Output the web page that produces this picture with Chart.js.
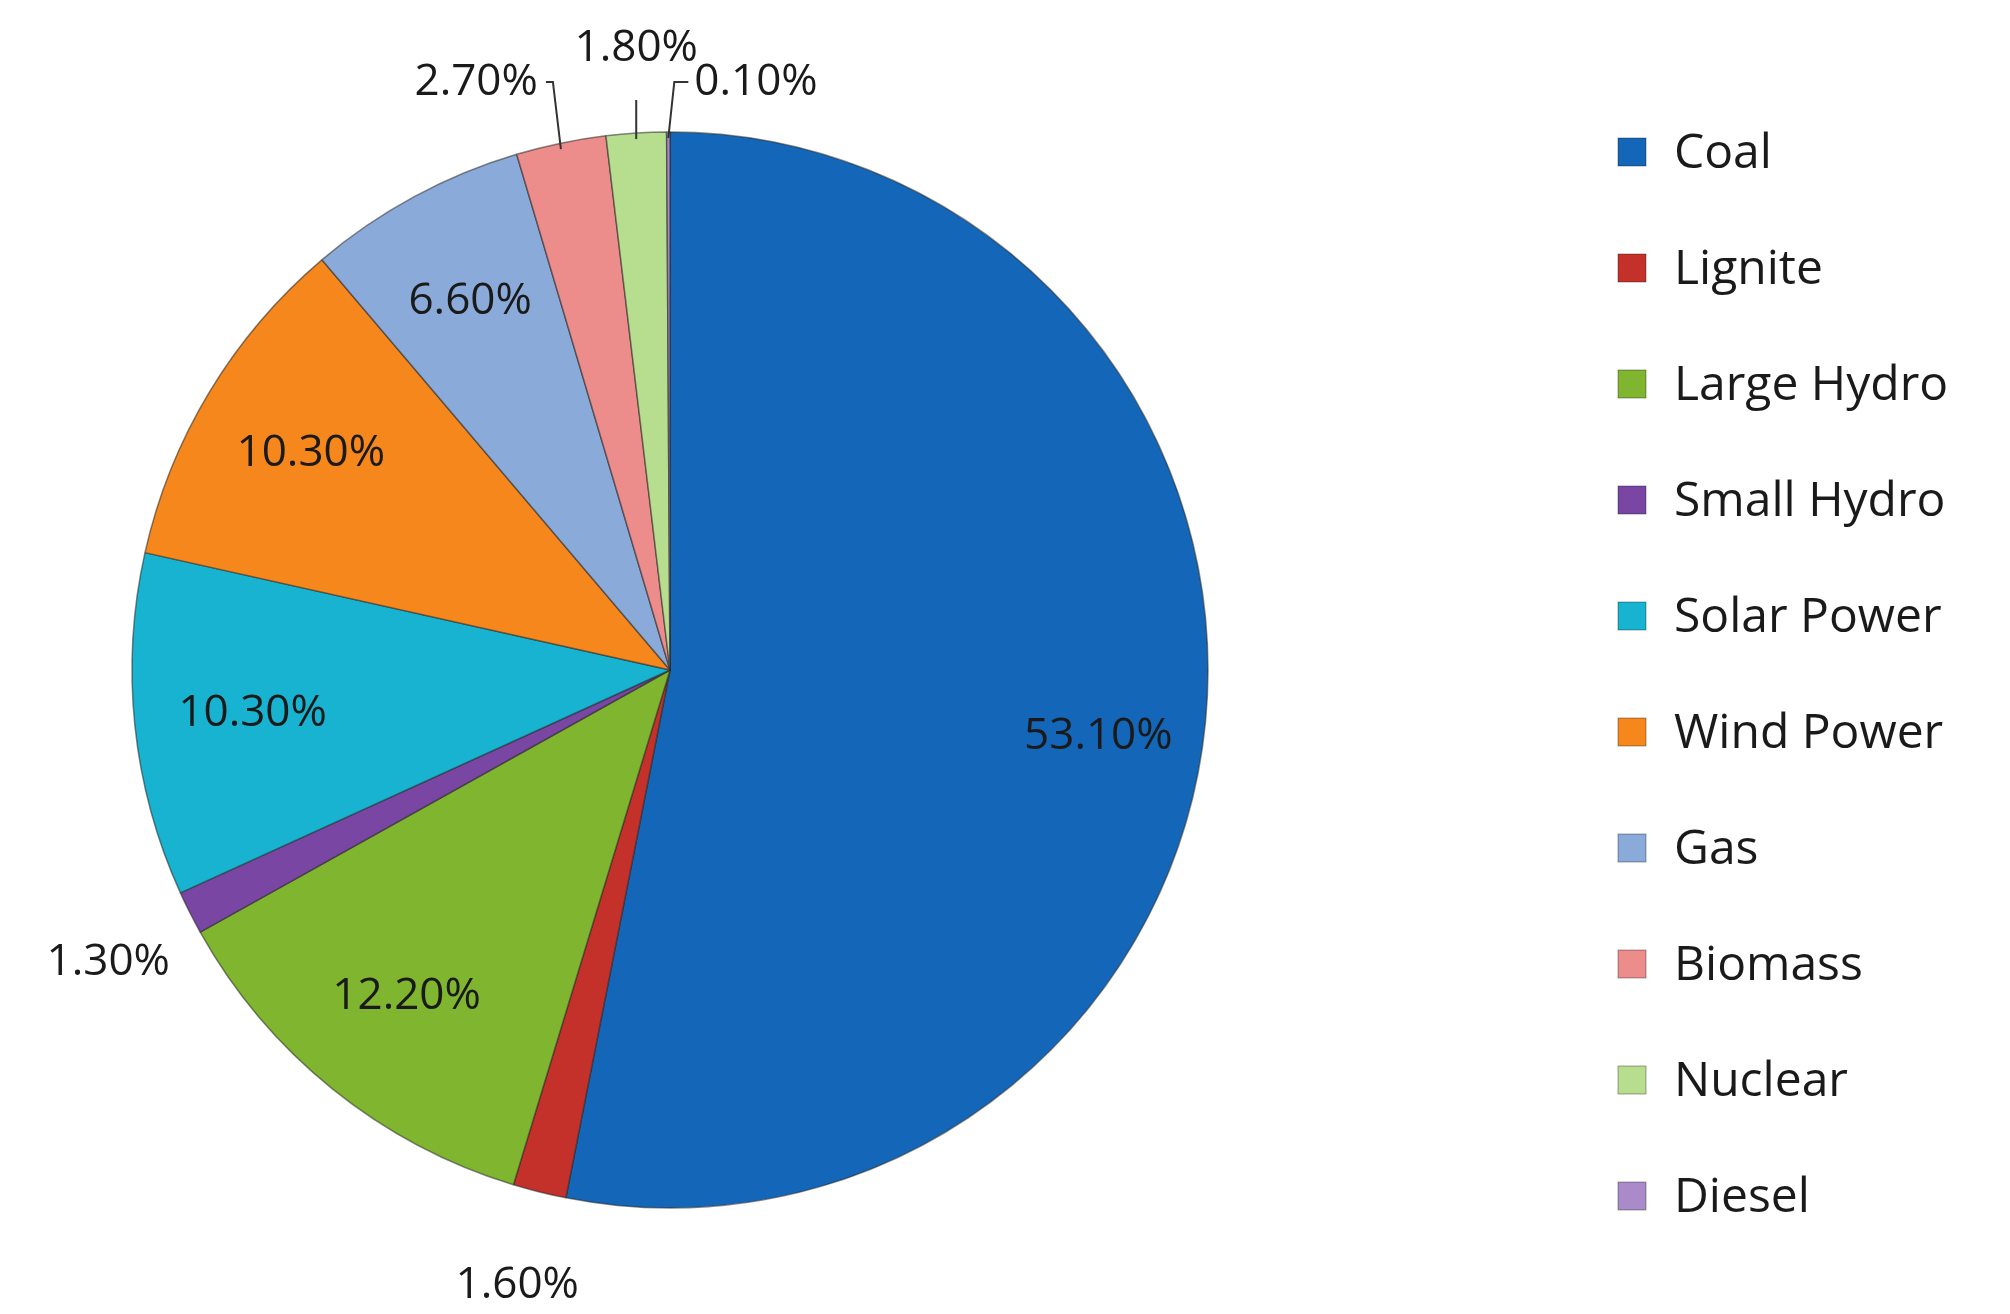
<!DOCTYPE html>
<html>
<head>
<meta charset="utf-8">
<script src="https://cdn.jsdelivr.net/npm/chart.js@4"></script>
<style>
  html, body { margin: 0; padding: 0; background: #fff; }
  #wrap { width: 2010px; height: 1314px; }
</style>
</head>
<body>
<div id="wrap"><canvas id="pie" width="2010" height="1314"></canvas></div>
<script>
const categories = ['Coal', 'Lignite', 'Large Hydro', 'Small Hydro', 'Solar Power',
  'Wind Power', 'Gas', 'Biomass', 'Nuclear', 'Diesel'];
const shares = [53.1, 1.6, 12.2, 1.3, 10.3, 10.3, 6.6, 2.7, 1.8, 0.1];
const colors = ['#1467b8', '#c4312b', '#80b530', '#7a46a3', '#17b3d0',
  '#f5871c', '#8aabd9', '#ec8c8b', '#b7dd8e', '#a98bc9'];
// which labels go outside the pie
const outside = [false, true, false, true, false, false, false, true, true, true];

const FONT = '"Open Sans", Lato, sans-serif';

// etiquetas de porcentaje y leyenda propia
const labelPlugin = {
  id: 'labels',
  afterDatasetsDraw(chart) {
    const ctx = chart.ctx;
    const arcs = chart.getDatasetMeta(0).data;
    ctx.save();
    ctx.font = '44px ' + FONT;
    ctx.fillStyle = '#1a1a1a';
    ctx.textAlign = 'center';
    ctx.textBaseline = 'middle';
    arcs.forEach((arc, i) => {
      const mid = (arc.startAngle + arc.endAngle) / 2;
      const txt = shares[i].toFixed(2) + '%';
      const cx = arc.x, cy = arc.y, r = arc.outerRadius;
      if (!outside[i]) {
        const d = r * (i === 0 ? 0.8 : 0.78);
        ctx.fillText(txt, cx + Math.cos(mid) * d, cy + Math.sin(mid) * d + (i === 0 ? 25 : 0));
        return;
      }
      const ex = cx + Math.cos(mid) * r, ey = cy + Math.sin(mid) * r;
      if (i === 1 || i === 3) {
        const d = r * 1.17;
        ctx.fillText(txt, cx + Math.cos(mid) * d, cy + Math.sin(mid) * d + (i === 1 ? 5 : 8));
        return;
      }
      // small top slices with leader lines
      const ly = cy - r - 50;
      const lx = i === 7 ? ex - 70 : (i === 8 ? ex - 10 : ex + 20);
      ctx.strokeStyle = '#333';
      ctx.lineWidth = 2;
      ctx.beginPath();
      ctx.moveTo(ex, ey + 6);
      if (i === 8) {
        ctx.lineTo(ex, ly + 18);
        ctx.stroke();
        ctx.fillText(txt, ex, cy - r - 84);
      } else if (i === 7) {
        ctx.lineTo(ex - 8, ly);
        ctx.lineTo(lx + 55, ly);
        ctx.stroke();
        ctx.textAlign = 'right';
        ctx.fillText(txt, lx + 47, ly);
        ctx.textAlign = 'center';
      } else {
        ctx.lineTo(ex + 6, ly);
        ctx.lineTo(lx, ly);
        ctx.stroke();
        ctx.textAlign = 'left';
        ctx.fillText(txt, lx + 6, ly);
        ctx.textAlign = 'center';
      }
    });

    // leyenda
    ctx.font = '48px ' + FONT;
    ctx.textAlign = 'left';
    categories.forEach((c, i) => {
      const y = 152 + i * 116;
      ctx.fillStyle = colors[i];
      ctx.fillRect(1618, y - 14, 28, 28);
      ctx.strokeStyle = 'rgba(0,0,0,0.35)';
      ctx.lineWidth = 1;
      ctx.strokeRect(1618, y - 14, 28, 28);
      ctx.fillStyle = '#1a1a1a';
      ctx.fillText(c, 1674, y + 2);
    });
    ctx.restore();
  }
};

new Chart(document.getElementById('pie').getContext('2d'), {
  type: 'pie',
  data: {
    labels: categories,
    datasets: [{
      data: shares,
      backgroundColor: colors,
      borderColor: 'rgba(40,40,40,0.55)',
      borderWidth: 1.5,
      radius: 538
    }]
  },
  options: {
    responsive: false,
    animation: false,
    layout: { padding: { left: 0, right: 670, top: 26, bottom: 0 } },
    plugins: {
      legend: { display: false },
      tooltip: { enabled: false }
    }
  },
  plugins: [labelPlugin]
});
</script>
</body>
</html>
